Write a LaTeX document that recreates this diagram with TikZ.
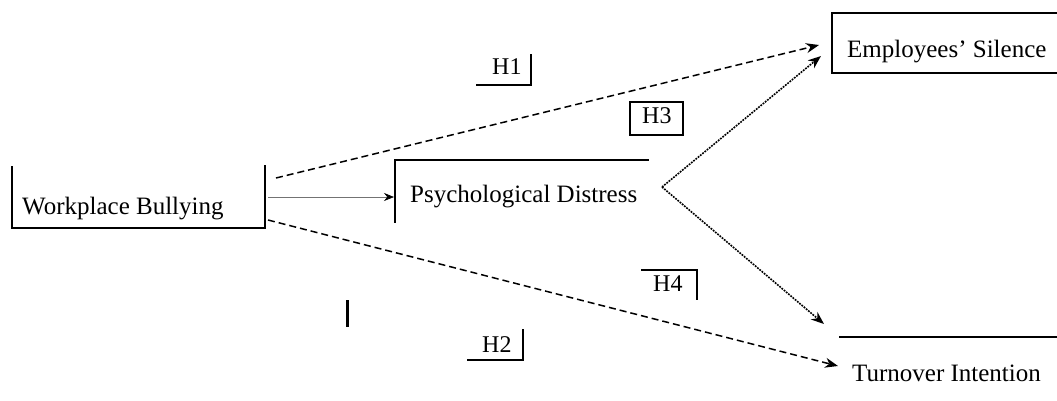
\documentclass[tikz,border=0pt]{standalone}
\usepackage{fontspec}
\setmainfont{Liberation Serif}
\usetikzlibrary{arrows.meta}
\begin{document}
\begin{tikzpicture}[x=1pt,y=-1pt,
  lbl/.style={font=\fontsize{25}{28}\selectfont, inner sep=0pt, anchor=base west},
  hlbl/.style={font=\fontsize{24}{28}\selectfont, inner sep=0pt, anchor=base west},
  frame/.style={line width=1.6pt, line cap=rect},
  dasharrow/.style={line width=1.5pt, dash pattern=on 7pt off 4pt, -{Stealth[length=13pt,width=10pt]}},
  dotarrow/.style={line width=1.6pt, dash pattern=on 1.8pt off 1.1pt, -{Stealth[length=13pt,width=10pt]}},
  solidarrow/.style={line width=0.7pt, draw=black!55, -{Stealth[length=10pt,width=8pt,color=black]}}
]
\useasboundingbox (0,0) rectangle (1057,400);

% text nodes
\node[lbl] (wb) at (22,214) {Workplace Bullying};
\node[lbl] (pd) at (410,202) {Psychological Distress};
\node[lbl] (es) at (847,57) {Employees' Silence};
\node[lbl] (ti) at (852,381) {Turnover Intention};

\node[hlbl] (h1) at (492,74) {H1};
\node[hlbl] (h3) at (642,123) {H3};
\node[hlbl] (h4) at (653,291) {H4};
\node[hlbl] (h2) at (482,352) {H2};

% partial frames
\draw[frame] (12,167) -- (12,228) -- (265,228) -- (265,166);
\draw[frame] (395,222) -- (395,160) -- (648,160);
\draw[frame] (1057,13) -- (832,13) -- (832,73) -- (1057,73);
\draw[frame] (840,337) -- (1057,337);

\draw[frame] (477,85) -- (531,85) -- (531,55);
\draw[frame] (630,102) rectangle (683,135);
\draw[frame] (642,270) -- (697,270) -- (697,299);
\draw[frame] (468,360) -- (523,360) -- (523,330);
\draw[line width=3pt] (347,300) -- (347,327);

% connector end points
\coordinate (wbA) at (276,178);
\coordinate (wbB) at (268,197);
\coordinate (wbC) at (268,220);
\coordinate (pdIn) at (394,197);
\coordinate (pdOut) at (662,187);
\coordinate (esA) at (819,45);
\coordinate (esB) at (821,56);
\coordinate (tiA) at (824,324);
\coordinate (tiB) at (838,366);

% connectors
\draw[dasharrow] (wbA) -- (esA);
\draw[solidarrow] (wbB) -- (pdIn);
\draw[dasharrow] (wbC) -- (tiB);
\draw[dotarrow] (pdOut) -- (esB);
\draw[dotarrow] (pdOut) -- (tiA);
\end{tikzpicture}
\end{document}
